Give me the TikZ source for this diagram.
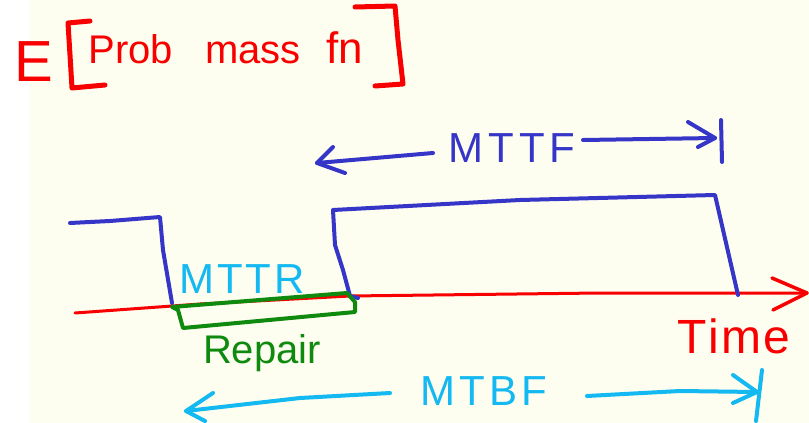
\documentclass[tikz,border=0pt]{standalone}
\usepackage{fontspec}
\setmainfont{Liberation Sans}
\definecolor{paper}{HTML}{FEFEF0}
\definecolor{inkred}{HTML}{F80000}
\definecolor{inkblue}{HTML}{3535C8}
\definecolor{inkcyan}{HTML}{14B9F2}
\definecolor{inkgreen}{HTML}{0F8A0F}
\tikzset{
  pen/.style={line cap=round, line join=round, line width=#1},
  pen/.default=4pt,
  lbl/.style={inner sep=0pt, anchor=base},
}
\newcommand{\fsz}[1]{\fontsize{#1}{#1}\selectfont}
\begin{document}
\begin{tikzpicture}[x=1pt,y=-1pt]
\useasboundingbox (0,0) rectangle (809,423);
\fill[white] (0,0) rectangle (809,423);
\fill[paper] (30,0) rectangle (809,423);

% Title
\node[lbl, anchor=base west, text=inkred] (E) at (14,81) {\fsz{58}E};
\draw[pen=5pt, inkred] (90,21) -- (68,23) -- (70,55) -- (72,88) -- (105,85);
\draw[pen=5pt, inkred] (355,7) -- (395,6) -- (398,40) -- (403,84) -- (375,86);
\node[lbl, text=inkred] (prob) at (131,63) {\fsz{40}Prob};
\node[lbl, text=inkred] (mass) at (253,63) {\fsz{40}mass};
\node[lbl, text=inkred] (fn) at (345,63) {\fsz{44}fn};

% Time axis
\coordinate (t0) at (75,313);
\coordinate (t1) at (807,293);
\draw[pen=3pt, inkred] (t0) -- (200,304) -- (350,296) -- (600,293) -- (t1);
\draw[pen=3.5pt, inkred] (772,278) -- (t1) -- (773,310);
\node[lbl, text=inkred] (time) at (734,353) {\fsz{48}T\kern2pt i\kern2pt m\kern2pt e};

% Blue waveform
\draw[pen=4pt, inkblue] (70,223) -- (110,221) -- (160,217) -- (163,250) -- (172,303);
\draw[pen=4pt, inkblue] (358,298) -- (350,296) -- (343,270) -- (335,245) -- (333,210)
   -- (520,200) -- (715,195) -- (738,295);

% MTTF arrow
\coordinate (fl) at (317,163);
\coordinate (fr) at (715,138);
\draw[pen=4pt, inkblue] (433,153) -- (fl);
\draw[pen=4pt, inkblue] (333,147) -- (fl) -- (345,173);
\draw[pen=4pt, inkblue] (583,140) -- (fr);
\draw[pen=4pt, inkblue] (688,122) -- (fr) -- (698,147);
\draw[pen=4pt, inkblue] (721,120) -- (722,162);
\node[lbl, text=inkblue] (mttf) at (512,162) {\fsz{42}M\kern5pt T\kern5pt T\kern5pt F};

% Repair box
\draw[pen=4pt, inkgreen] (172,307) -- (347,293) -- (355,302) -- (355,312) -- (183,328) -- (178,310) -- cycle;
\node[lbl, text=inkgreen] (repair) at (262,363) {\fsz{40}Repair};
\node[lbl, text=inkcyan] (mttr) at (242,293) {\fsz{42}M\kern3pt T\kern3pt T\kern3pt R};

% MTBF arrow
\coordinate (bl) at (186,411);
\coordinate (br) at (757,392);
\draw[pen=4pt, inkcyan] (390,393) -- (300,398) -- (bl);
\draw[pen=4pt, inkcyan] (213,393) -- (bl) -- (205,421);
\draw[pen=4pt, inkcyan] (587,396) -- (680,391) -- (br);
\draw[pen=4pt, inkcyan] (733,375) -- (br) -- (733,403);
\draw[pen=4pt, inkcyan] (762,370) -- (756,421);
\node[lbl, text=inkcyan] (mtbf) at (484,405) {\fsz{42}M\kern4pt T\kern4pt B\kern4pt F};
\end{tikzpicture}
\end{document}
